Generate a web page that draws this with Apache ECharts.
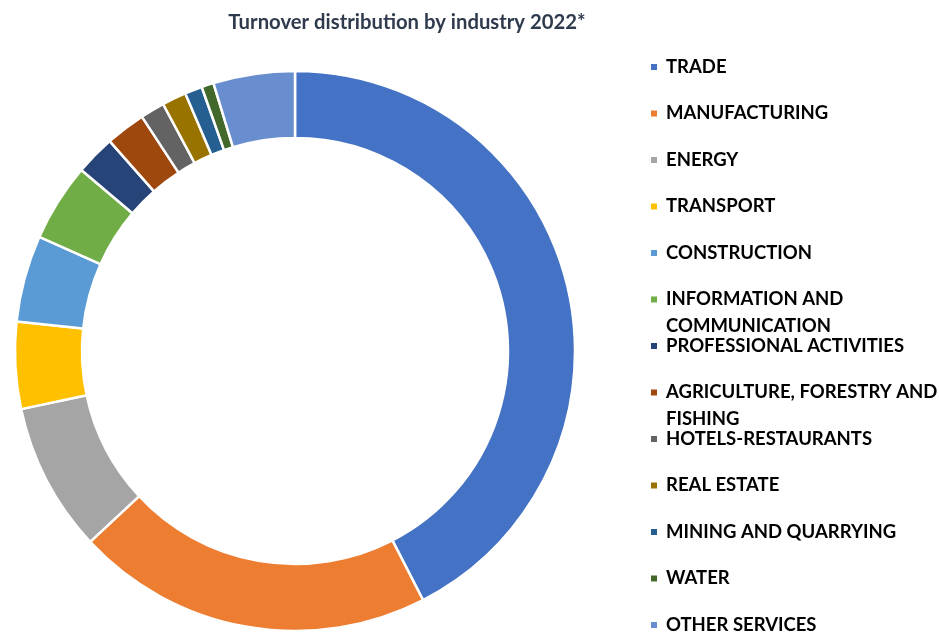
<!DOCTYPE html>
<html>
<head>
<meta charset="utf-8">
<script src="https://cdn.jsdelivr.net/npm/echarts@6/dist/echarts.min.js"></script>
<style>html,body{margin:0;padding:0;background:#fff}#c{width:939px;height:633px}</style>
</head>
<body>
<div id="c"></div>
<script>
const categories = ['TRADE','MANUFACTURING','ENERGY','TRANSPORT','CONSTRUCTION','INFORMATION AND COMMUNICATION','PROFESSIONAL ACTIVITIES','AGRICULTURE, FORESTRY AND FISHING','HOTELS-RESTAURANTS','REAL ESTATE','MINING AND QUARRYING','WATER','OTHER SERVICES'];
const shares = [42.4, 20.6, 8.6, 5.0, 5.0, 4.5, 2.3, 2.3, 1.4, 1.4, 1.0, 0.7, 4.7];
const colors = ['#4472C4','#ED7D31','#A5A5A5','#FFC000','#5B9BD5','#70AD47','#264478','#9E480E','#636363','#997300','#255E91','#43682B','#698ED0'];
const legendLabels = ['TRADE','MANUFACTURING','ENERGY','TRANSPORT','CONSTRUCTION','INFORMATION AND\nCOMMUNICATION','PROFESSIONAL ACTIVITIES','AGRICULTURE, FORESTRY AND\nFISHING','HOTELS-RESTAURANTS','REAL ESTATE','MINING AND QUARRYING','WATER','OTHER SERVICES'];

const LH = 27;
const legends = categories.map((name, i) => {
  const y = 67 + 46.5 * i;
  const twoLine = legendLabels[i].indexOf('\n') >= 0;
  return {
    data: [name],
    orient: 'vertical',
    left: 649,
    top: twoLine ? y - LH * 1.5 : y - LH / 2,
    padding: 0,
    icon: 'rect',
    itemWidth: 8,
    itemHeight: 8,
    selectedMode: false,
    formatter: () => (twoLine ? ' \n' : '') + legendLabels[i],
    textStyle: {
      fontFamily: 'Lato',
      fontWeight: 'bold',
      fontSize: 18.5,
      color: '#000',
      lineHeight: LH,
      padding: [0, 0, 0, 3]
    }
  };
});

const chart = echarts.init(document.getElementById('c'), null, {renderer: 'canvas'});
chart.setOption({
  animation: false,
  color: colors,
  title: {
    text: 'Turnover distribution by industry 2022*',
    left: 402, top: 7, textAlign: 'center',
    textStyle: {fontFamily: 'Lato', fontWeight: 'bold', fontSize: 20.3, color: '#2f3b4d'}
  },
  legend: legends,
  series: [{
    type: 'pie',
    center: [295, 351],
    radius: [213, 280],
    startAngle: 90,
    clockwise: true,
    avoidLabelOverlap: false,
    label: {show: false},
    labelLine: {show: false},
    emphasis: {disabled: true},
    itemStyle: {borderColor: '#fff', borderWidth: 2.5},
    data: categories.map((n, i) => ({name: n, value: shares[i]}))
  }]
});
</script>
</body>
</html>
